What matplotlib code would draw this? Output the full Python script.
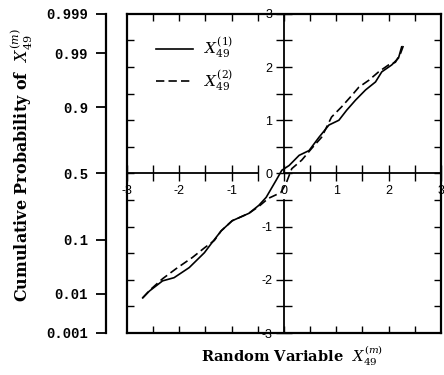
import matplotlib
matplotlib.use("Agg")
import matplotlib.pyplot as plt
from statistics import NormalDist

plt.rcParams['mathtext.fontset'] = 'dejavuserif'

# traced sample curves (x = random variable, y = normal score)
x1 = [-2.70, -2.57, -2.32, -2.10, -1.81, -1.52, -1.39, -1.20, -0.99, -0.67, -0.48,
      -0.34, -0.15, -0.04, 0.10, 0.29, 0.48, 0.67, 0.86, 1.05, 1.20, 1.37, 1.56,
      1.75, 1.87, 2.06, 2.19, 2.25]
y1 = [-2.34, -2.21, -2.02, -1.96, -1.77, -1.49, -1.32, -1.08, -0.89, -0.75, -0.60,
      -0.45, -0.13, 0.06, 0.15, 0.34, 0.43, 0.68, 0.91, 1.00, 1.19, 1.38, 1.57,
      1.72, 1.91, 2.04, 2.17, 2.38]
x2 = [-2.70, -2.57, -2.32, -2.06, -1.75, -1.52, -1.33, -1.20, -0.99, -0.67, -0.48,
      -0.30, -0.06, 0.04, 0.15, 0.34, 0.53, 0.72, 0.91, 1.10, 1.30, 1.43, 1.62,
      1.81, 2.00, 2.13, 2.23, 2.29]
y2 = [-2.34, -2.20, -1.98, -1.79, -1.58, -1.40, -1.26, -1.08, -0.89, -0.75, -0.62,
      -0.47, -0.36, -0.19, 0.09, 0.25, 0.47, 0.68, 1.06, 1.25, 1.47, 1.62, 1.75,
      1.91, 2.04, 2.09, 2.26, 2.42]

prob_ticks = [0.001, 0.01, 0.1, 0.5, 0.9, 0.99, 0.999]
prob_labels = ['0.001', '0.01', '0.1', '0.5', '0.9', '0.99', '0.999']
half_ticks = [-3, -2.5, -2, -1.5, -1, -0.5, 0, 0.5, 1, 1.5, 2, 2.5, 3]

pos = [0.286, 0.112, 0.707, 0.851]
fig = plt.figure(figsize=(4.44, 3.75), dpi=100)

# outer box with inward ticks
ax = fig.add_axes(pos)
ax.set_xlim(-3, 3)
ax.set_ylim(-3, 3)
for s in ax.spines.values():
    s.set_linewidth(1.6)
ax.set_xticks(half_ticks[1:-1])
ax.set_yticks(half_ticks[1:-1])
ax.tick_params(direction='in', length=5, width=1, top=True, right=True,
               labelbottom=False, labelleft=False)

ax.plot(x1, y1, color='black', lw=1.2, label=r'$X_{49}^{(1)}$')
ax.plot(x2, y2, color='black', lw=1.2, ls=(0, (5, 2.5)), label=r'$X_{49}^{(2)}$')
ax.legend(loc='upper left', bbox_to_anchor=(0.05, 0.975), frameon=False,
          handlelength=2.4, fontsize=11, labelspacing=0.55, handletextpad=0.7)

tick_font = dict(family='Liberation Sans', size=9)


def overlay():
    a = fig.add_axes(pos)
    a.patch.set_visible(False)
    a.set_xlim(-3, 3)
    a.set_ylim(-3, 3)
    a.spines['top'].set_visible(False)
    a.spines['right'].set_visible(False)
    return a


def cross_axes(bounds, xlabels, ylabels):
    a = overlay()
    lo, hi = bounds
    ticks = [t for t in half_ticks if lo <= t <= hi]
    for side in ('left', 'bottom'):
        sp = a.spines[side]
        sp.set_position(('data', 0))
        sp.set_bounds(lo, hi)
        sp.set_linewidth(1.3)
    a.set_xticks(ticks)
    a.set_yticks(ticks)
    a.set_xticklabels([xlabels.get(t, '') for t in ticks], fontdict=tick_font)
    a.set_yticklabels([ylabels.get(t, '') for t in ticks], fontdict=tick_font)
    a.tick_params(direction='inout', length=11, width=1, pad=3)
    return a


cross_axes((0, 3), {0: '0', 1: '1', 2: '2', 3: '3'}, {0: '0', 1: '1', 2: '2', 3: '3'})
cross_axes((-3, -0.5), {-3: '-3', -2: '-2', -1: '-1'}, {-3: '-3', -2: '-2', -1: '-1'})

# probability scale on the left
ap = overlay()
ap.spines['bottom'].set_visible(False)
ap.set_xticks([])
qs = [NormalDist().inv_cdf(p) for p in prob_ticks]
sp = ap.spines['left']
sp.set_position(('axes', -0.067))
sp.set_bounds(qs[0], qs[-1])
sp.set_linewidth(1.6)
ap.set_yticks(qs)
ap.set_yticklabels(prob_labels, family='Liberation Mono', weight='bold', size=10)
ap.tick_params(axis='y', direction='out', length=7, width=1.3, pad=6)

fig.text(0.05, 0.56, r'Cumulative Probability of  $X_{49}^{(m)}$', rotation=90,
         ha='center', va='center', family='DejaVu Serif', weight='bold', size=11.5)
fig.text(0.658, 0.05, r'Random Variable  $X_{49}^{(m)}$', ha='center', va='center',
         family='DejaVu Serif', weight='bold', size=10.5)

fig.savefig('out.png', dpi=100, facecolor='white')
